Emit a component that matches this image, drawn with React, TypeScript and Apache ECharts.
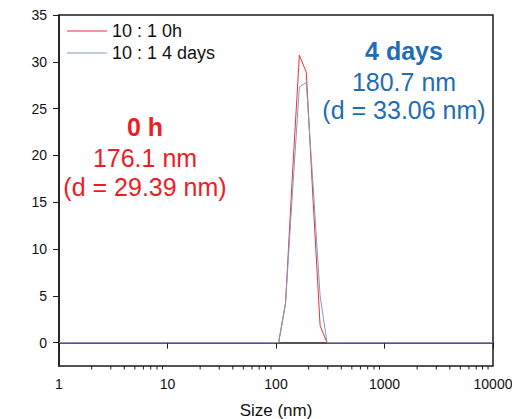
import React, { useEffect, useRef } from "react";
import * as echarts from "echarts";

const sizes = [1, 105.7, 122.4, 141.8, 164.2, 190.1, 220.2, 255.0, 295.3, 10000];
const values0h = [0, 0, 4.2, 18.0, 30.7, 28.9, 15.0, 1.8, 0, 0];
const values4d = [0, 0, 4.2, 16.0, 27.3, 27.8, 16.6, 5.0, 0, 0];
const seriesNames = ["10 : 1 0h", "10 : 1 4 days"];
const yTicks = [0, 5, 10, 15, 20, 25, 30, 35];
const xMinorTicks = [
  2, 3, 4, 5, 6, 7, 8, 9, 20, 30, 40, 50, 60, 70, 80, 90, 200, 300, 400, 500, 600, 700, 800, 900,
  2000, 3000, 4000, 5000, 6000, 7000, 8000, 9000,
];
const Y_MIN = -2.5;
const Y_MAX = 35;

const RED = "#ee1c24";
const BLUE = "#1f6db5";
const FONT = "Liberation Sans, Arial, sans-serif";

export default function App() {
  const ref = useRef<HTMLDivElement>(null);
  useEffect(() => {
    if (!ref.current) return;
    const chart = echarts.init(ref.current, undefined, { renderer: "svg" });
    const pair = (ys: number[]) => sizes.map((s, i) => [s, ys[i]]);
    chart.setOption({
      animation: false,
      backgroundColor: "#fff",
      grid: {
        left: 59,
        right: 19,
        top: 15,
        bottom: 53,
        containLabel: false,
        outerBoundsMode: "none",
        show: true,
        borderColor: "#1a1a1a",
        borderWidth: 1.5,
        backgroundColor: "transparent",
      },
      legend: {
        orient: "vertical",
        left: 67,
        top: 22,
        padding: 0,
        itemWidth: 40,
        itemHeight: 1,
        itemGap: 4,
        icon: "rect",
        textStyle: { fontFamily: FONT, fontSize: 18, color: "#111" },
        data: seriesNames,
      },
      xAxis: {
        type: "log",
        logBase: 10,
        min: 1,
        max: 10000,
        position: "bottom",
        name: "Size (nm)",
        nameLocation: "middle",
        nameGap: 36,
        nameTextStyle: { fontFamily: FONT, fontSize: 17, color: "#111" },
        axisLine: { show: true, lineStyle: { color: "#1a1a1a", width: 1.5 } },
        axisTick: { show: true, inside: false, length: 6, lineStyle: { color: "#1a1a1a" } },
        axisLabel: {
          fontFamily: FONT,
          fontSize: 14,
          color: "#111",
          margin: 11,
          formatter: (v: number) => String(Math.round(v)),
        },
        splitLine: { show: false },
        minorTick: { show: false },
      },
      yAxis: {
        type: "value",
        min: Y_MIN,
        max: Y_MAX,
        axisLine: { show: true, lineStyle: { color: "#1a1a1a", width: 1.5 } },
        axisTick: { show: true, inside: false, length: 6, customValues: yTicks, lineStyle: { color: "#1a1a1a" } },
        axisLabel: { customValues: yTicks, fontFamily: FONT, fontSize: 14, color: "#111", margin: 12 },
        splitLine: { show: false },
      },
      series: [
        {
          name: seriesNames[0],
          type: "line",
          symbol: "none",
          data: pair(values0h),
          lineStyle: { color: "#e8303a", width: 1 },
          itemStyle: { color: "#e8303a" },
        },
        {
          name: seriesNames[1],
          type: "line",
          symbol: "none",
          data: pair(values4d),
          lineStyle: { color: "#7d9cc0", width: 1 },
          itemStyle: { color: "#7d9cc0" },
        },
        {
          name: "minorTicks",
          type: "custom",
          silent: true,
          clip: false,
          data: xMinorTicks.map((v) => [v, Y_MIN]),
          renderItem: (params: any, api: any) => {
            const p = api.coord([api.value(0), api.value(1)]);
            return {
              type: "line",
              shape: { x1: p[0], y1: p[1], x2: p[0], y2: p[1] + 3.5 },
              style: { stroke: "#1a1a1a", lineWidth: 1 },
            };
          },
        },
      ],
      graphic: [
        { type: "text", x: 145, y: 127, style: { text: "0 h", fill: RED, font: `bold 25px ${FONT}`, textAlign: "center", textVerticalAlign: "middle" } },
        { type: "text", x: 145, y: 158, style: { text: "176.1 nm", fill: RED, font: `25px ${FONT}`, textAlign: "center", textVerticalAlign: "middle" } },
        { type: "text", x: 145, y: 187, style: { text: "(d = 29.39 nm)", fill: RED, font: `25px ${FONT}`, textAlign: "center", textVerticalAlign: "middle" } },
        { type: "text", x: 404, y: 51, style: { text: "4 days", fill: BLUE, font: `bold 25px ${FONT}`, textAlign: "center", textVerticalAlign: "middle" } },
        { type: "text", x: 404, y: 82, style: { text: "180.7 nm", fill: BLUE, font: `25px ${FONT}`, textAlign: "center", textVerticalAlign: "middle" } },
        { type: "text", x: 404, y: 110, style: { text: "(d = 33.06 nm)", fill: BLUE, font: `25px ${FONT}`, textAlign: "center", textVerticalAlign: "middle" } },
      ],
    });
    return () => chart.dispose();
  }, []);
  return <div ref={ref} style={{ width: 512, height: 419, position: "absolute", left: 0, top: 0 }} />;
}
